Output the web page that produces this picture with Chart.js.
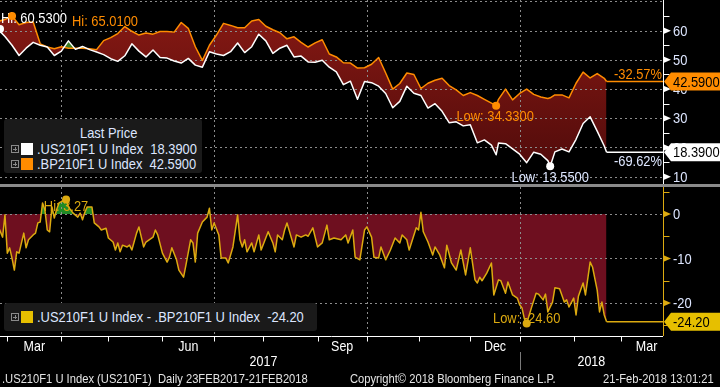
<!DOCTYPE html>
<html>
<head>
<meta charset="utf-8">
<script src="https://cdn.jsdelivr.net/npm/chart.js@4"></script>
<style>
  html, body { margin: 0; padding: 0; background: #000; }
  body { width: 720px; height: 387px; position: relative; overflow: hidden;
         font-family: 'Liberation Sans', Arial, sans-serif; color: #dde6ff; }
  canvas { position: absolute; left: 0; }
  #top { top: 0; }
  #bottom { top: 187px; }
  .sep { position: absolute; left: 0; top: 184px; width: 720px; height: 3px; background: #8a8a8a; }
  .legend { position: absolute; left: 4px; background: #1a1a1a; border-radius: 3px; font-size: 15px; }
  .narrow { display: inline-block; transform: scaleX(0.86); transform-origin: 0 50%; white-space: pre; }
  .legend .title { position: absolute; left: 76px; top: 6px; line-height: 16px; }
  .row { position: absolute; left: 0; height: 16px; width: 100%; }
  .row .plus { position: absolute; left: 7px; top: 4px; width: 6px; height: 6px; border: 1px solid #8a8a8a; }
  .row .plus::before { content: ''; position: absolute; left: 1px; top: 2.5px; width: 4px; height: 1px; background: #8a8a8a; }
  .row .plus::after { content: ''; position: absolute; left: 2.5px; top: 1px; width: 1px; height: 4px; background: #8a8a8a; }
  .row .sw { position: absolute; left: 17px; top: 2px; width: 12px; height: 12px; }
  .row .txt { position: absolute; left: 33px; top: 0; line-height: 16px; }
  .foot { position: absolute; top: 371px; line-height: 16px; font-size: 13px; color: #e4e4e4; }
  .foot.r { transform-origin: 100% 50%; }
</style>
</head>
<body>
<canvas id="top" width="720" height="184"></canvas>
<div class="sep"></div>
<canvas id="bottom" width="720" height="200"></canvas>
<div class="legend" id="legTop" style="top:119px;width:198px;height:54px;"><div class="title narrow">Last Price</div></div>
<div class="legend" id="legBottom" style="top:303px;width:313px;height:28px;"></div>
<div class="foot narrow" style="left:2px;">.US210F1 U Index (US210F1)  Daily 23FEB2017-21FEB2018</div>
<div class="foot narrow" style="left:350px;">Copyright© 2018 Bloomberg Finance L.P.</div>
<div class="foot narrow r" style="right:6px;">21-Feb-2018 13:01:21</div>
<script>
// x values are trading-day numbers counted from 23 Feb 2017
const seriesNames = ['.US210F1 U Index', '.BP210F1 U Index'];
const spreadName = '.US210F1 U Index - .BP210F1 U Index';

const dayIdx = [0, 3, 6, 9, 12, 15, 18, 21, 24, 27, 30, 33, 36, 39, 42, 45, 48, 51, 54, 57,
  60, 63, 66, 69, 72, 75, 78, 81, 84, 87, 90, 93, 96, 99, 102, 105, 108, 111, 114, 117,
  120, 123, 126, 129, 132, 135, 138, 141, 144, 147, 150, 153, 156, 159, 162, 165, 168, 171, 174, 177,
  180, 183, 186, 189, 192, 195, 198, 201, 204, 207, 210, 212, 213, 216, 219, 222, 225, 228, 231, 234,
  235, 237, 240, 243, 246, 249, 252, 255, 258, 259];

const us210 = [60.53, 58, 55, 51.5, 54, 56, 55, 54.4, 51.5, 53, 56.5, 53.6, 54.6, 53.5, 52.7, 51.8, 50.4, 49.5, 51.4, 55.5,
  53, 51, 53.4, 50.8, 50.6, 49.6, 48.9, 50.5, 48.2, 47.5, 52.8, 52, 51.5, 52.8, 55.8, 52.5, 54.5, 58.8, 56.5, 52.2,
  54, 55, 51, 51.3, 49.3, 49.2, 49.9, 47.5, 45.9, 41.5, 42.7, 36.5, 42.6, 42.2, 41, 38.5, 33.6, 35.8, 41, 38.6,
  37.8, 33.5, 35, 32.4, 28.5, 28.8, 27.4, 27.8, 21.6, 22.6, 20.8, 17.5, 21.5, 21.3, 19.5, 17.7, 14.8, 18.4, 17.7, 15.5,
  13.55, 18.5, 19.5, 18.5, 22.8, 28.2, 30.5, 25.6, 20.5, 18.39];

const bp210 = [63.16, 63.8, 65.01, 62, 62.8, 63, 55.5, 54.4, 53.8, 54.5, 54, 54, 54, 53.8, 53.5, 56.6, 57.6, 59, 61.4, 59.8,
  58.5, 59.2, 58.8, 59.7, 59.7, 59.5, 62.8, 60.8, 54.5, 49.8, 55, 58.5, 62.5, 61.8, 61, 61, 63.3, 63.8, 61.5, 60.3,
  59.3, 57.2, 57.9, 56, 54.4, 55.8, 56.9, 52, 51, 49, 48.9, 47.2, 47.3, 48.5, 50.8, 45.5, 40, 41.9, 45.5, 45,
  40.2, 42, 43, 43.7, 41.2, 39.7, 37.8, 38.8, 37.8, 36.5, 35.2, 34.33, 36.5, 40, 36.3, 38.5, 40, 38.2, 37.3, 36.8,
  37, 38, 38, 37, 42, 45.8, 43.8, 45.3, 43.7, 42.59];

const spreadIdx = [0, 2, 3, 4, 5, 6, 7, 8, 9, 11, 12, 13, 15, 16, 17, 18, 19, 20, 21, 22,
  23, 24, 25, 26, 27, 29, 30, 32, 34, 35, 36, 37, 38, 40, 41, 43, 44, 46, 47, 49,
  50, 51, 52, 53, 55, 56, 57, 59, 60, 62, 63, 66, 67, 68, 70, 72, 73, 74, 76, 77,
  79, 80, 82, 83, 84, 85, 87, 89, 90, 91, 92, 94, 95, 97, 98, 99, 100, 102, 103, 104,
  105, 106, 108, 109, 111, 112, 115, 117, 118, 119, 121, 122, 123, 126, 127, 129, 131, 132, 134, 136,
  138, 140, 141, 143, 146, 148, 149, 151, 152, 154, 156, 157, 159, 160, 162, 163, 165, 167, 169, 171,
  172, 174, 175, 178, 179, 180, 181, 183, 185, 186, 188, 190, 191, 193, 195, 197, 199, 201, 203, 204,
  205, 206, 208, 210, 211, 213, 214, 216, 217, 219, 221, 222, 223, 224, 225, 227, 229, 230, 232, 233,
  234, 236, 237, 239, 241, 242, 243, 245, 246, 247, 249, 250, 252, 253, 255, 256, 257, 258, 259];

const spread = [-2.63, -5.2, -0.2, -8.8, -7.6, -9.9, -12.6, -8.5, -8.8, -4.3, -7.6, -5.8, -4.7, -4.3, -2, -1.8, 2.5, 0.9, -3.6, -4,
  1.6, -0.9, 1, 2.5, 2.8, 3.27, 1.6, 0.2, -0.7, 0.2, -1.3, 0.4, 1.6, 1.6, -2, -2.9, -3.6, -3.2, -5.4, -6.3,
  -8.1, -6.5, -8.5, -7, -7.4, -7, -8.1, -4.3, -2.9, -7.4, -6.3, -5.2, -3.6, -4.7, -8.8, -10.8, -9.7, -7.6, -10.3, -12.6,
  -14.2, -11.5, -5.8, -6.5, -10.8, -4.3, -1.8, -0.7, 1.3, -3.6, -2, -4.7, -9.9, -9.9, -11, -9.2, -7.4, -0.2, -5.8, -7.4,
  -5.8, -8.5, -6.5, -8.5, -4.7, -8.1, -4, -6.5, -8.5, -4.7, -5.8, -3.6, -2, -7.4, -4.7, -5.2, -4.7, -5, -3.1, -7.4,
  -6.5, -2.5, -5.8, -5.4, -5.8, -4.7, -6.5, -3.6, -9.7, -10.3, -3.6, -2.9, -5.2, -9.7, -9.9, -7.4, -10.3, -8.1, -5.4, -6.5,
  -4.7, -5.8, -8.1, -3.1, -3.6, 0.4, -4, -6.3, -9.2, -7.4, -9.2, -12.1, -7, -11, -12.6, -8.1, -13.7, -7.6, -14.8, -15.5,
  -14.2, -15, -13.3, -11, -18.2, -14.8, -15, -17.8, -15.3, -18.2, -18.9, -20.4, -21.1, -23.5, -24.6, -21.1, -17.8, -18, -19.3, -18,
  -22, -19.8, -16.6, -16.8, -19.8, -19.3, -20.9, -18.9, -22.7, -18.5, -15.5, -18.2, -10.8, -11.9, -17.1, -22, -19.8, -22.7, -24.2];

// axis marks (trading-day numbers)
const monthTicks = [4, 27, 47, 70, 92, 113, 136, 157, 179, 201, 222, 245, 265];
const quarterLines = [27, 92, 157, 222];
const quarterLabels = ['Mar', 'Jun', 'Sep', 'Dec', 'Mar'];
const quarterLabelPos = [15.5, 81, 146.5, 211.5, 276];
const yearLabels = ['2017', '2018'];
const yearLabelPos = [113, 252.5];
const yearBreak = 222;
const topMajor = [10, 20, 30, 40, 50, 60];
const topMinor = [15, 25, 35, 45, 55, 65];
const topGrid = [10, 20, 30, 40, 50, 60, 70];
const bottomMajor = [0, -10, -20];
const bottomMinor = [5, -5, -15, -25];

const FONT = "'Liberation Sans', Arial, sans-serif";
const SX = 0.86; // squeeze the text to a narrow face
const TXT = '#dde6ff';
const WHITE = '#ffffff', ORANGE = '#ff8c00', GOLD = '#dcaa10';
const X_MIN = 0.89, X_MAX = 283;

Chart.defaults.font.family = FONT;

function pts(xs, ys) { return xs.map((x, i) => ({x: x, y: ys[i]})); }
function seg(ctx, x1, y1, x2, y2) { ctx.beginPath(); ctx.moveTo(x1, y1); ctx.lineTo(x2, y2); ctx.stroke(); }
function argMax(a) { return a.indexOf(Math.max(...a)); }
function argMin(a) { return a.indexOf(Math.min(...a)); }
function pct(a) { return ((a[a.length - 1] / a[0] - 1) * 100).toFixed(2) + '%'; }

// narrow text on canvas
function label(ctx, str, x, y, align, size) {
  ctx.font = (size || 15) + 'px ' + FONT;
  const w = ctx.measureText(str).width * SX;
  const left = align === 'center' ? x - w / 2 : align === 'right' ? x - w : x;
  ctx.save();
  ctx.textAlign = 'left'; ctx.textBaseline = 'middle';
  ctx.translate(left, y); ctx.scale(SX, 1);
  ctx.fillText(str, 0, 0);
  ctx.restore();
}

function drawGrid(chart, levels) {
  const {ctx, chartArea: a, scales: {x, y}} = chart;
  ctx.save();
  ctx.strokeStyle = '#8c8c8c'; ctx.lineWidth = 1; ctx.setLineDash([2, 3]);
  quarterLines.forEach(d => { const px = Math.round(x.getPixelForValue(d)) + 0.5; seg(ctx, px, a.top, px, a.bottom); });
  levels.forEach(v => { const py = Math.round(y.getPixelForValue(v)) + 0.5; seg(ctx, a.left, py, a.right, py); });
  ctx.restore();
}

function drawYAxis(chart, color, major, minor) {
  const {ctx, chartArea: a, scales: {y}} = chart;
  const ax = a.right + 0.5;
  ctx.save();
  ctx.strokeStyle = color; ctx.lineWidth = 1;
  seg(ctx, ax, a.top, ax, a.bottom);
  minor.forEach(v => { const py = Math.round(y.getPixelForValue(v)) + 0.5; seg(ctx, ax, py, ax + 6, py); });
  major.forEach(v => {
    const py = y.getPixelForValue(v);
    ctx.fillStyle = color;
    ctx.beginPath(); ctx.moveTo(a.right, py - 3.5); ctx.lineTo(a.right + 8, py); ctx.lineTo(a.right, py + 3.5); ctx.closePath(); ctx.fill();
    ctx.fillStyle = TXT;
    label(ctx, String(v), a.right + 10, py + 1, 'left');
  });
  ctx.restore();
}

function tail(chart, ds, color) {
  const {ctx, chartArea: a} = chart;
  const pts = chart.getDatasetMeta(ds).data;
  const p = pts[pts.length - 1];
  ctx.save();
  ctx.strokeStyle = color; ctx.lineWidth = 1.5;
  seg(ctx, p.x, p.y, a.right, p.y);
  ctx.restore();
  return p;
}

function valueBox(chart, py, text, bg) {
  const {ctx, chartArea: a} = chart;
  ctx.save();
  ctx.fillStyle = bg;
  ctx.beginPath();
  ctx.moveTo(a.right + 1, py);
  ctx.lineTo(a.right + 8, py - 9);
  ctx.lineTo(720, py - 9);
  ctx.lineTo(720, py + 9);
  ctx.lineTo(a.right + 8, py + 9);
  ctx.closePath(); ctx.fill();
  ctx.fillStyle = '#000';
  label(ctx, text, a.right + 10, py + 1, 'left');
  ctx.restore();
}

function note(chart, ds, i, color, text, dx, dy, align) {
  const {ctx, chartArea: a} = chart;
  const p = chart.getDatasetMeta(ds).data[i];
  const px = Math.max(p.x, a.left);
  ctx.save();
  ctx.fillStyle = color;
  label(ctx, text, px + dx, p.y + dy, align);
  ctx.restore();
  return {x: px, y: p.y};
}

function dot(ctx, p, color) {
  ctx.save(); ctx.fillStyle = color;
  ctx.beginPath(); ctx.arc(p.x, p.y, 4, 0, Math.PI * 2); ctx.fill();
  ctx.restore();
}

const topDecor = {
  id: 'topDecor',
  beforeDatasetsDraw(chart) { drawGrid(chart, topGrid); },
  afterDraw(chart) {
    const {ctx, chartArea: a} = chart;
    const pu = tail(chart, 0, WHITE);
    const pb = tail(chart, 1, ORANGE);
    const d1 = note(chart, 0, argMax(us210), WHITE, 'Hi: ' + Math.max(...us210).toFixed(4), 1, -10, 'left');
    const d2 = note(chart, 1, argMax(bp210), ORANGE, 'Hi: ' + Math.max(...bp210).toFixed(4), 60, 6, 'left');
    const d3 = note(chart, 1, argMin(bp210), ORANGE, 'Low: ' + Math.min(...bp210).toFixed(4), -1, 11, 'center');
    const d4 = note(chart, 0, argMin(us210), TXT, 'Low: ' + Math.min(...us210).toFixed(4), 0, 12, 'center');
    dot(ctx, d1, WHITE); dot(ctx, d2, ORANGE); dot(ctx, d3, ORANGE); dot(ctx, d4, WHITE);
    ctx.save();
    ctx.fillStyle = ORANGE; label(ctx, pct(bp210), a.right - 1, pb.y - 7, 'right');
    ctx.fillStyle = TXT; label(ctx, pct(us210), a.right - 1, pu.y + 10, 'right');
    ctx.restore();
    drawYAxis(chart, WHITE, topMajor, topMinor);
    valueBox(chart, pb.y, bp210[bp210.length - 1].toFixed(4), ORANGE);
    valueBox(chart, pu.y, us210[us210.length - 1].toFixed(4), WHITE);
  }
};

const bottomDecor = {
  id: 'bottomDecor',
  beforeDatasetsDraw(chart) { drawGrid(chart, bottomMajor); },
  afterDraw(chart) {
    const {ctx, chartArea: a, scales: {x}} = chart;
    const ps = tail(chart, 0, GOLD);
    const hi = note(chart, 0, argMax(spread), GOLD, 'Hi: ' + Math.max(...spread).toFixed(2), 0, 7, 'center');
    const lo = note(chart, 0, argMin(spread), GOLD, 'Low: ' + Math.min(...spread).toFixed(2), 0, -5, 'center');
    dot(ctx, hi, GOLD); dot(ctx, lo, GOLD);
    // time axis
    const by = a.bottom + 0.5;
    ctx.save();
    ctx.strokeStyle = WHITE; ctx.lineWidth = 1;
    seg(ctx, 0, by, a.right, by);
    monthTicks.forEach(d => { const px = Math.round(x.getPixelForValue(d)) + 0.5; seg(ctx, px, by, px, by + 5); });
    ctx.strokeStyle = '#7a7a7a';
    const bx = Math.round(x.getPixelForValue(yearBreak)) + 0.5;
    seg(ctx, bx, a.bottom + 16, bx, a.bottom + 34);
    ctx.fillStyle = WHITE;
    quarterLabels.forEach((t, i) => label(ctx, t, x.getPixelForValue(quarterLabelPos[i]), a.bottom + 11, 'center', 14.5));
    yearLabels.forEach((t, i) => label(ctx, t, x.getPixelForValue(yearLabelPos[i]), a.bottom + 26, 'center', 14.5));
    ctx.restore();
    drawYAxis(chart, GOLD, bottomMajor, bottomMinor);
    valueBox(chart, ps.y, spread[spread.length - 1].toFixed(2), '#e6bf00');
  }
};

const baseOptions = (yMin, yMax, xHeight) => ({
  responsive: false,
  animation: false,
  events: [],
  layout: {padding: 0},
  elements: {line: {tension: 0, borderJoinStyle: 'round'}, point: {radius: 0}},
  plugins: {legend: {display: false}, tooltip: {enabled: false}, filler: {drawTime: 'beforeDraw'}},
  scales: {
    x: {type: 'linear', min: X_MIN, max: X_MAX, display: xHeight > 0,
        ticks: {display: false}, grid: {display: false}, border: {display: false},
        afterFit(s) { s.height = xHeight; }},
    y: {type: 'linear', position: 'right', min: yMin, max: yMax,
        ticks: {display: false}, grid: {display: false}, border: {display: false},
        afterFit(s) { s.width = 57; }}
  }
});

const topCtx = document.getElementById('top').getContext('2d');
const redFill = topCtx.createLinearGradient(0, 0, 0, 184);
redFill.addColorStop(0, '#8a1a14');
redFill.addColorStop(1, '#4c0a0a');

new Chart(topCtx, {
  type: 'line',
  data: {
    datasets: [
      {label: seriesNames[0], data: pts(dayIdx, us210), borderColor: WHITE, borderWidth: 1.5,
       fill: {target: 1, above: '#3a7d24', below: redFill}},
      {label: seriesNames[1], data: pts(dayIdx, bp210), borderColor: ORANGE, borderWidth: 1.5, fill: false}
    ]
  },
  options: baseOptions(7.5, 70.5, 0),
  plugins: [topDecor]
});

new Chart(document.getElementById('bottom'), {
  type: 'line',
  data: {
    datasets: [
      {label: spreadName, data: pts(spreadIdx, spread), borderColor: GOLD, borderWidth: 1.5,
       fill: {target: 'origin', above: '#1f8a26', below: '#6e0f1f'}}
    ]
  },
  options: baseOptions(-27.42, 6.07, 51),
  plugins: [bottomDecor]
});

// legends
function row(top, color, text) {
  return '<div class="row" style="top:' + top + 'px"><span class="plus"></span>' +
    '<span class="sw" style="background:' + color + '"></span><span class="txt narrow">' + text + '</span></div>';
}
document.getElementById('legTop').innerHTML +=
  row(22, WHITE, seriesNames[0] + '  ' + us210[us210.length - 1].toFixed(4)) +
  row(37, ORANGE, seriesNames[1] + '  ' + bp210[bp210.length - 1].toFixed(4));
document.getElementById('legBottom').innerHTML =
  row(6, '#e6bf00', spreadName + '  ' + spread[spread.length - 1].toFixed(2));
</script>
</body>
</html>
